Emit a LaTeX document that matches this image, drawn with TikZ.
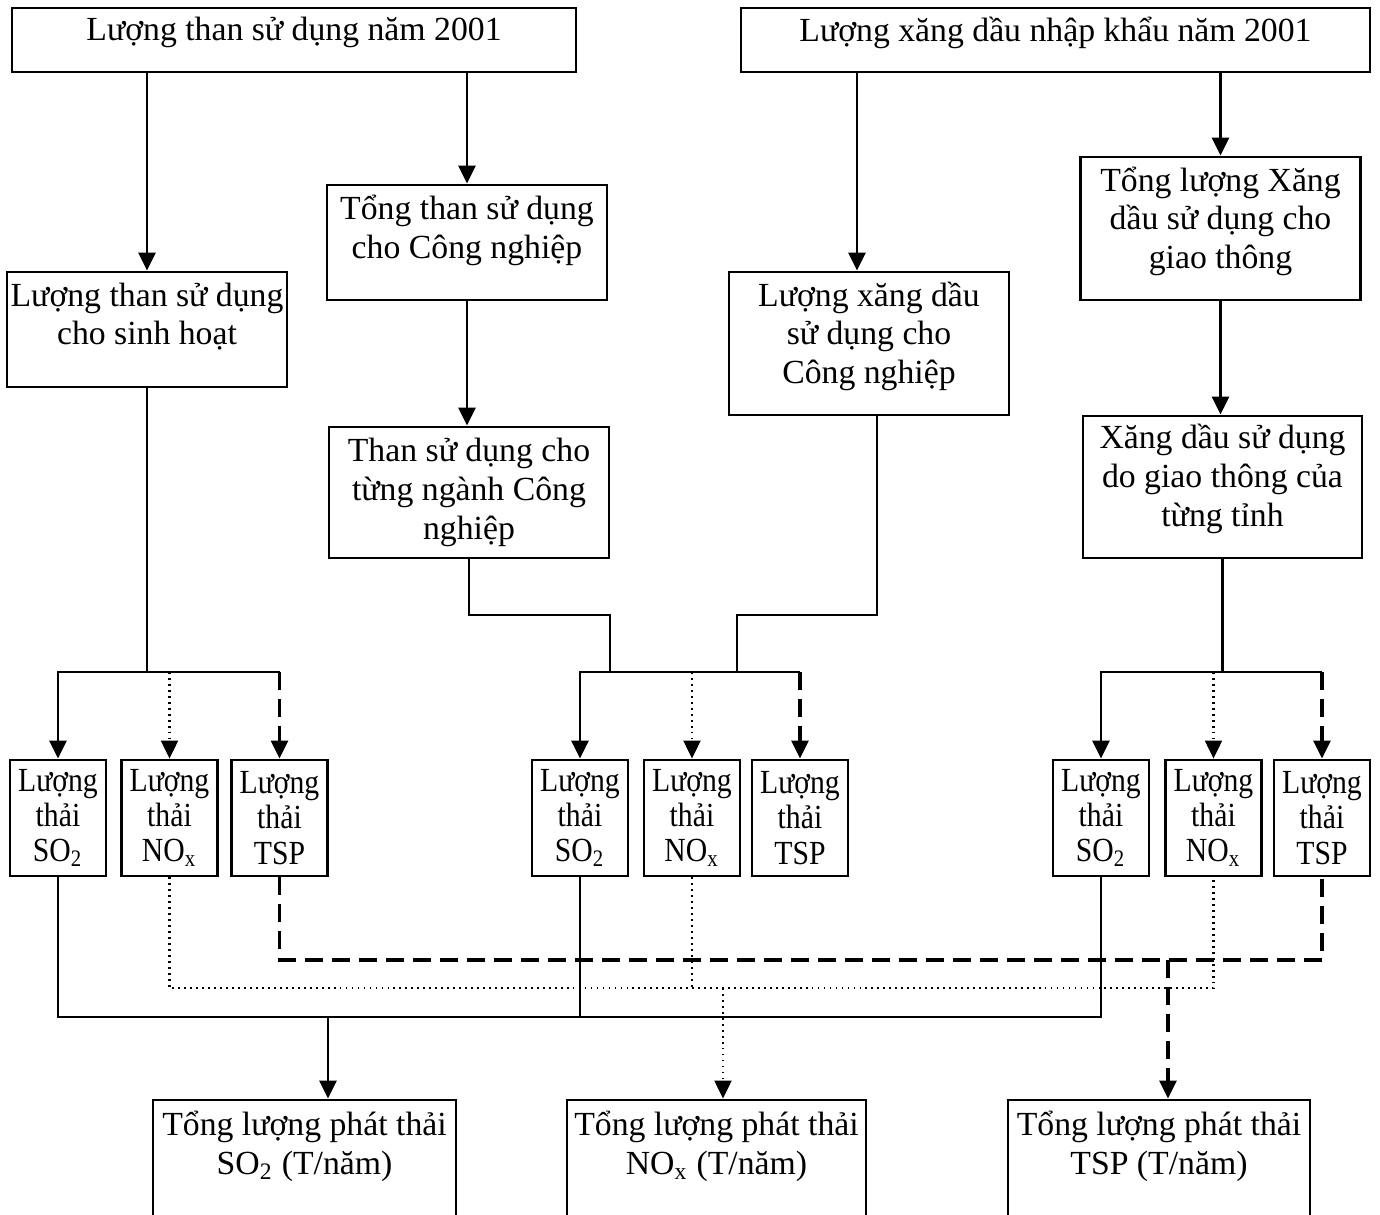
\documentclass[tikz,border=0pt]{standalone}
\usepackage{fontspec}
\setmainfont{Liberation Serif}
\newfontfamily\narrowserif{Liberation Serif}[FakeStretch=0.88]
\usetikzlibrary{arrows.meta}
\tikzset{
  fl diagram/.style={x=0.1mm, y=-0.1mm, line join=miter,
    font=\fontsize{9.6}{11}\selectfont},
  fl box/.style={draw, line width=0.8pt, align=center,
    inner xsep=0.5pt, inner ysep=1pt},
  fl small/.style={fl box, font=\narrowserif\fontsize{9.6}{10}\selectfont,
    minimum width=9.6mm, minimum height=11.6mm},
  fl line/.style={line width=0.8pt},
  fl arrow/.style={fl line, -{Triangle[length=1.8mm,width=1.7mm]}},
  fl dash/.style={line width=0.9pt, dash pattern=on 1.8mm off 0.9mm},
  fl dash arrow/.style={fl dash, -{Triangle[length=1.8mm,width=1.7mm]}},
  fl dot/.style={line width=0.6pt, dash pattern=on 0.5pt off 1.2pt},
  fl dot arrow/.style={fl dot, -{Triangle[length=1.8mm,width=1.7mm]}}
}

\begin{document}
\begin{tikzpicture}[fl diagram]
\useasboundingbox (0,0) rectangle (1380,1215);
% sources
\node[fl box, minimum width=56.4mm, minimum height=6.4mm] (coal) at (294,40) {Lượng than sử dụng năm 2001\\[-4.8pt]\mbox{}};
\node[fl box, minimum width=62.9mm, minimum height=6.4mm] (oil) at (1055.5,40) {Lượng xăng dầu nhập khẩu năm 2001\\[-4.8pt]\mbox{}};
\node[fl box, minimum width=28mm, minimum height=11.5mm] (coalInd) at (467,242.5) {Tổng than sử dụng\\cho Công nghiệp\\[-2pt]\mbox{}};
\node[fl box, minimum width=28mm, minimum height=14.3mm] (oilTraffic) at (1220.5,228.5) {Tổng lượng Xăng\\dầu sử dụng cho\\giao thông\\[-4.8pt]\mbox{}};
\node[fl box, minimum width=28mm, minimum height=11.5mm] (coalHome) at (147,329.5) {Lượng than sử dụng\\cho sinh hoạt\\[-2pt]\mbox{}};
\node[fl box, minimum width=28mm, minimum height=14.3mm] (oilInd) at (869,343.5) {Lượng xăng dầu\\sử dụng cho\\Công nghiệp\\[-4.8pt]\mbox{}};
\node[fl box, minimum width=28mm, minimum height=13.1mm] (coalSector) at (469,492.5) {Than sử dụng cho\\từng ngành Công\\nghiệp};
\node[fl box, minimum width=27.9mm, minimum height=14.2mm] (oilProv) at (1222.5,487) {Xăng dầu sử dụng\\do giao thông của\\từng tỉnh\\[-4.3pt]\mbox{}};
% emissions per source
\foreach \i/\xs/\xn/\xt in {1/58/169.5/279.5, 2/580/692/800, 3/1101/1213.5/1322}{
  \node[fl small] (so\i) at (\xs,818) {Lượng\\thải\\SO\textsubscript{2}};
  \node[fl small] (nox\i) at (\xn,818) {Lượng\\thải\\NO\textsubscript{x}};
  \node[fl small] (tsp\i) at (\xt,818) {Lượng\\thải\\TSP};
}
% totals
\node[fl box, minimum width=30.3mm, minimum height=12.4mm] (totSO) at (304.5,1162) {Tổng lượng phát thải\\SO\textsubscript{2} (T/năm)\\\mbox{}};
\node[fl box, minimum width=29.9mm, minimum height=12.4mm] (totNO) at (716.5,1162) {Tổng lượng phát thải\\NO\textsubscript{x} (T/năm)\\\mbox{}};
\node[fl box, minimum width=30.2mm, minimum height=12.4mm] (totTSP) at (1159,1162) {Tổng lượng phát thải\\TSP (T/năm)\\\mbox{}};

\coordinate (mergerow) at (0,615);
\coordinate (splitrow) at (0,672);
\coordinate (tsprow) at (0,960);
\coordinate (noxrow) at (0,988);
\coordinate (sorow) at (0,1017);

\draw[fl arrow] (coal.south -| coalHome.north) -- (coalHome.north);
\draw[fl arrow] (coal.south -| coalInd.north) -- (coalInd.north);
\coordinate (oilIndIn) at ([xshift=-1.2mm]oilInd.north);
\draw[fl arrow] (oil.south -| oilIndIn) -- (oilIndIn);
\draw[fl arrow] (oil.south -| oilTraffic.north) -- (oilTraffic.north);
\draw[fl arrow] (coalInd.south) -- (coalInd.south |- coalSector.north);
\draw[fl arrow] (oilTraffic.south) -- (oilTraffic.south |- oilProv.north);

% into the split rows
\draw[fl line] (coalHome.south) -- (coalHome.south |- splitrow);
\coordinate (mergeL) at (610,615);
\coordinate (mergeR) at (737,615);
\coordinate (oilIndOut) at ([xshift=0.8mm]oilInd.south);
\draw[fl line] (coalSector.south) |- (mergeL) -- (mergeL |- splitrow);
\draw[fl line] (oilIndOut) |- (mergeR) -- (mergeR |- splitrow);
\draw[fl line] (oilProv.south) -- (oilProv.south |- splitrow);
\foreach \i in {1,2,3}{
  \draw[fl arrow] (splitrow -| tsp\i.north) -- (splitrow -| so\i.north) -- (so\i.north);
  \draw[fl dot arrow] (splitrow -| nox\i.north) -- (nox\i.north);
  \draw[fl dash arrow] (splitrow -| tsp\i.north) -- (tsp\i.north);
}

% collecting lines
\draw[fl line] (so1.south) |- (sorow -| so3.south) -- (so3.south);
\draw[fl line] (so2.south) -- (so2.south |- sorow);
\coordinate (totSOin) at ([xshift=2.35mm]totSO.north);
\draw[fl arrow] (totSOin |- sorow) -- (totSOin);
\draw[fl dot] (nox1.south) |- (noxrow -| nox3.south) -- (nox3.south);
\draw[fl dot] (nox2.south) -- (nox2.south |- noxrow);
\coordinate (totNOin) at ([xshift=0.65mm]totNO.north);
\draw[fl dot arrow] (totNOin |- noxrow) -- (totNOin);
\draw[fl dash] (tsp1.south) |- (tsprow -| tsp3.south) -- (tsp3.south);
\coordinate (totTSPin) at ([xshift=0.9mm]totTSP.north);
\draw[fl dash arrow] (totTSPin |- tsprow) -- (totTSPin);
\end{tikzpicture}
\end{document}
